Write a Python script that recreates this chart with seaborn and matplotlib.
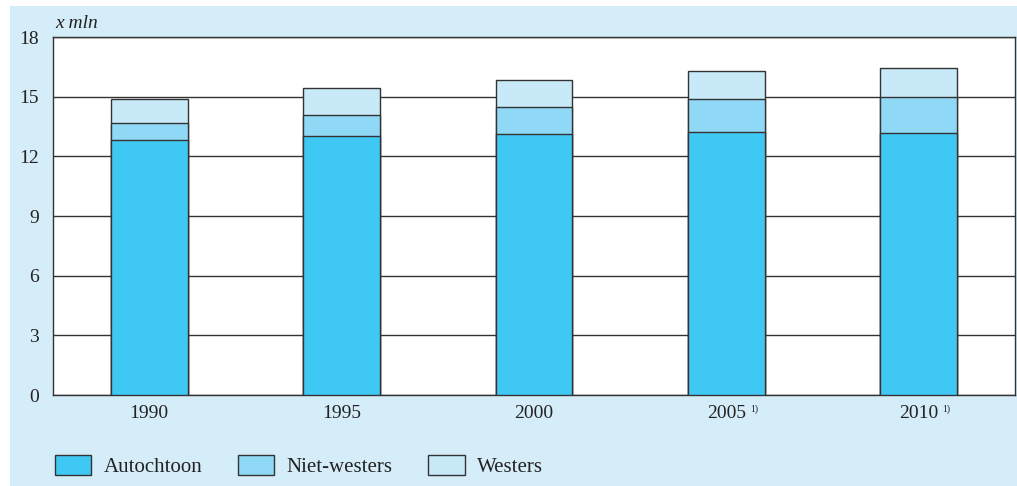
import pandas as pd
import matplotlib.pyplot as plt
import matplotlib.patches as mpatches
import seaborn as sns

years = ['1990', '1995', '2000', '2005', '2010']
footnote = [False, False, False, True, True]
autochtoon = [12.8, 13.0, 13.1, 13.2, 13.15]
niet_westers = [0.9, 1.1, 1.4, 1.7, 1.85]
westers = [1.2, 1.35, 1.35, 1.4, 1.45]

c_auto = '#40c8f4'
c_niet = '#8fd8f6'
c_west = '#c7e9f8'
c_bg = '#d5edf9'
edge = '#333333'

df = pd.DataFrame({'jaar': years, 'auto': autochtoon, 'niet': niet_westers, 'west': westers})
# cumulative heights, drawn from back to front
df['lvl2'] = df['auto'] + df['niet']
df['lvl3'] = df['lvl2'] + df['west']

sns.set_style('white')
plt.rcParams['font.family'] = ['Liberation Serif', 'DejaVu Serif']

fig = plt.figure(figsize=(10.17, 4.86), dpi=100)
fig.patch.set_facecolor('white')
bg = mpatches.Rectangle((10 / 1017, 0), 1007 / 1017, 480 / 486,
                        transform=fig.transFigure, facecolor=c_bg,
                        edgecolor='none', zorder=-10)
fig.add_artist(bg)

ax = fig.add_axes([53 / 1017, 91 / 486, 962 / 1017, 358 / 486])
ax.set_facecolor('white')

for col, color in [('lvl3', c_west), ('lvl2', c_niet), ('auto', c_auto)]:
    sns.barplot(data=df, x='jaar', y=col, color=color, width=0.4, saturation=1,
                edgecolor=edge, linewidth=1, ax=ax, zorder=3)

ax.set_ylim(0, 18)
ax.set_xlim(-0.5, 4.5)
ax.set_yticks(range(0, 19, 3))
ax.yaxis.grid(True, color=edge, linewidth=1)
ax.set_axisbelow(True)
ax.set_xlabel('')
ax.set_ylabel('')
ax.tick_params(axis='both', length=0, labelsize=14, colors='#222222')
ax.tick_params(axis='y', pad=10)
ax.tick_params(axis='x', pad=7)

for s in ['left', 'bottom', 'top', 'right']:
    ax.spines[s].set_color(edge)
    ax.spines[s].set_linewidth(1)

# footnote marks after 2005 and 2010
for i, f in enumerate(footnote):
    if f:
        ax.annotate('1)', xy=(i, 0), xycoords=('data', 'axes fraction'),
                    xytext=(17, -12), textcoords='offset points', fontsize=7,
                    color='#222222')

fig.text(55 / 1017, 1 - 24 / 486, 'x mln', fontsize=14, style='italic',
         va='center', ha='left', color='#222222')

handles = [mpatches.Patch(facecolor=c, edgecolor=edge, linewidth=1, label=l)
           for c, l in [(c_auto, 'Autochtoon'), (c_niet, 'Niet-westers'), (c_west, 'Westers')]]
fig.legend(handles=handles, loc='center left', bbox_to_anchor=(36 / 1017, 1 - 466 / 486),
           ncol=3, frameon=False, fontsize=15, handlelength=1.75, handleheight=1.15,
           handletextpad=0.6, columnspacing=1.7, labelcolor='#222222')

fig.savefig('out.png', dpi=100)
